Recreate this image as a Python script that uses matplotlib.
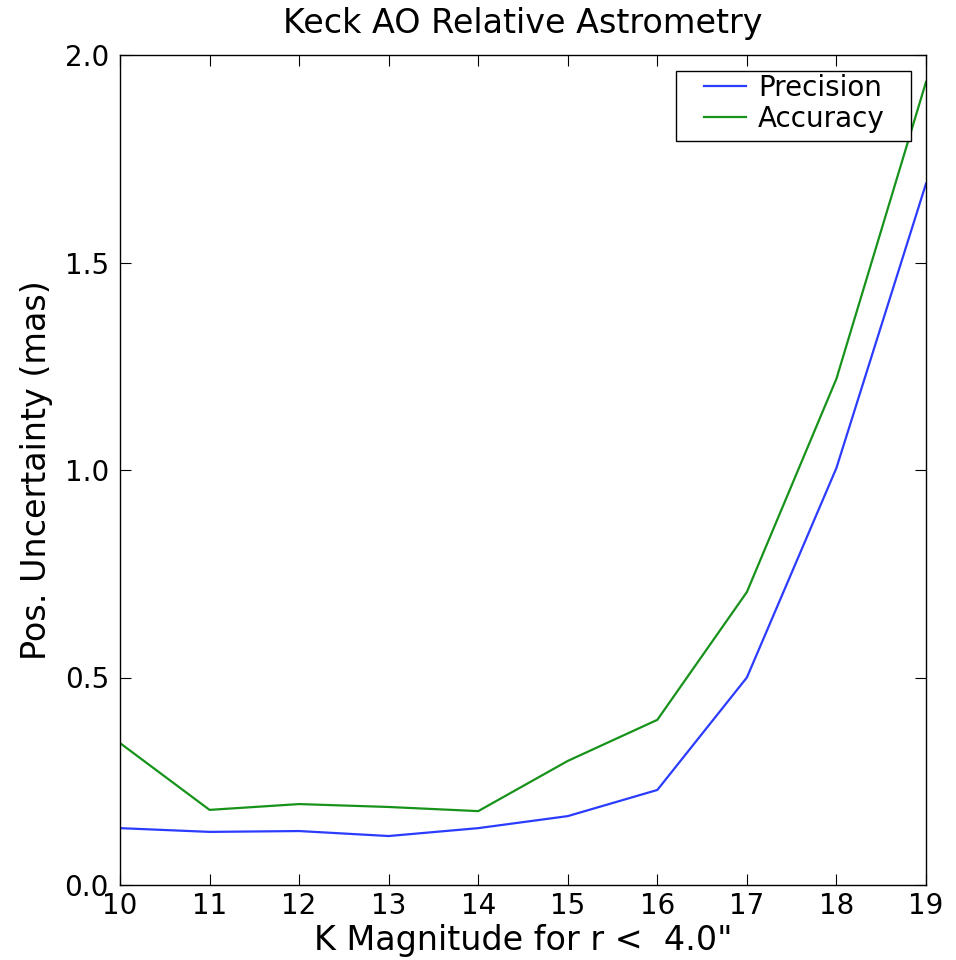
import matplotlib
matplotlib.use('Agg')
import matplotlib.pyplot as plt
from matplotlib.patches import Rectangle

# K magnitude bins and uncertainties (mas)
kmag = [10, 11, 12, 13, 14, 15, 16, 17, 18, 19]
precision = [0.137, 0.128, 0.130, 0.118, 0.137, 0.166, 0.229, 0.500, 1.005, 1.690]
accuracy = [0.342, 0.181, 0.195, 0.188, 0.178, 0.299, 0.398, 0.706, 1.220, 1.935]

fig = plt.figure(figsize=(9.56, 9.6), dpi=100, facecolor='white')
ax = fig.add_axes([120/956, 75/960, 806/956, 830/960])

ax.plot(kmag, precision, color='#2b3cff', lw=1.6, label='Precision')
ax.plot(kmag, accuracy, color='#17921a', lw=1.6, label='Accuracy')

ax.set_xlim(10, 19)
ax.set_ylim(0, 2.0)
ax.set_xticks(kmag)
ax.set_yticks([0.0, 0.5, 1.0, 1.5, 2.0])
ax.tick_params(direction='in', top=True, right=True, length=8, labelsize=20)
ax.tick_params(axis='x', pad=5)
ax.tick_params(axis='y', pad=8)
for s in ax.spines.values():
    s.set_linewidth(1.0)

ax.set_xlabel('K Magnitude for r <  4.0"', fontsize=24, labelpad=3)
ax.set_ylabel('Pos. Uncertainty (mas)', fontsize=24, labelpad=8)
ax.set_title('Keck AO Relative Astrometry', fontsize=24, pad=16)

# legend box is wider than the default padding gives, so draw the frame by hand
ax.add_patch(Rectangle((0.690, 0.896), 0.291, 0.085, transform=ax.transAxes,
                       facecolor='white', edgecolor='black', lw=1.0, zorder=4))
leg = ax.legend(loc='upper left', bbox_to_anchor=(0.7246, 0.977), fontsize=20,
                frameon=False, borderaxespad=0, borderpad=0,
                labelspacing=0.1, handlelength=1.5, handletextpad=0.45)
leg.set_zorder(5)

fig.savefig('out.png', dpi=100, facecolor='white')
